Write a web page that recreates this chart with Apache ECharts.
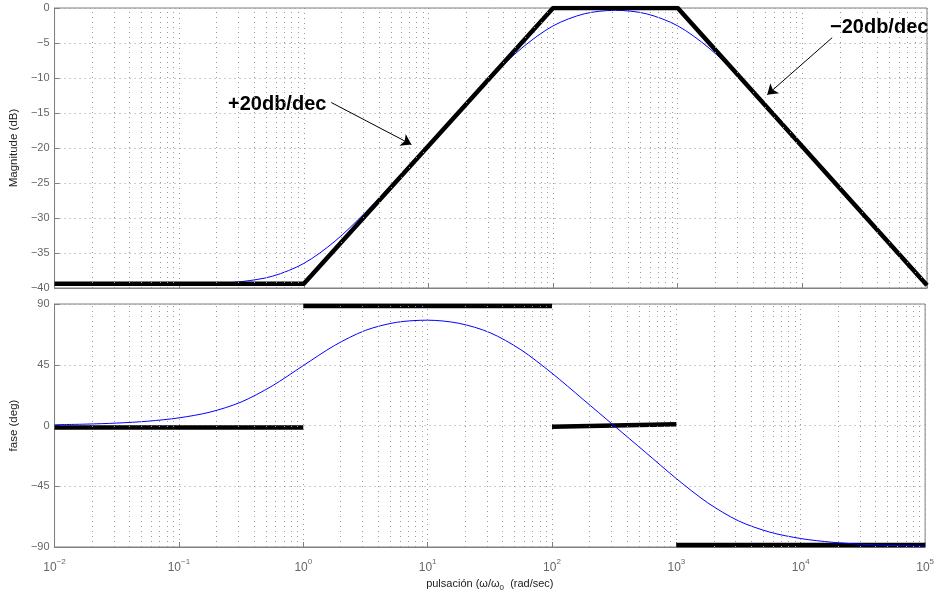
<!DOCTYPE html>
<html>
<head>
<meta charset="utf-8">
<script src="https://cdn.jsdelivr.net/npm/echarts@6/dist/echarts.min.js"></script>
<style>
  html, body { margin: 0; padding: 0; background: #fff; }
  #bode { width: 937px; height: 595px; }
</style>
</head>
<body>
<div id="bode"></div>
<script>
// pulsación (rad/sec), un punto cada 1/4 de década
const omega = [0.01, 0.0178, 0.0316, 0.0562, 0.1, 0.178, 0.316, 0.562,
  1, 1.78, 3.16, 5.62, 10, 17.8, 31.6, 56.2, 100, 178, 316, 562,
  1000, 1780, 3160, 5620, 10000, 17800, 31600, 56200, 100000]
// curva real (azul)
const magnitude = [-39.5, -39.5, -39.5, -39.49, -39.46, -39.37, -39.09, -38.31,
  -36.49, -33.31, -29.09, -24.38, -19.5, -14.62, -9.91, -5.71, -2.55, -0.83, -0.33, -0.83,
  -2.55, -5.71, -9.92, -14.64, -19.54, -24.51, -29.5, -34.5, -39.5]
const phase = [0.57, 1.01, 1.79, 3.18, 5.65, 9.93, 17.35, 29.3,
  44.37, 59.23, 70.46, 76.42, 78.01, 75.72, 68.83, 56.11, 38.72, 19.29, -0.18, -19.71,
  -39.35, -57.16, -70.66, -78.95, -83.73, -86.46, -88.01, -88.88, -89.37]
// asintotas (negro)
const magAsymptote = [[0.01, -39.4], [1, -39.4], [100, 0], [1000, 0], [100000, -39.6]]
const phaseAsymLow = [[0.01, -1.5], [1, -1.5]]
const phaseAsymMid = [[1, 88.5], [100, 88.5]]
const phaseAsymHigh = [[100, -1], [1000, 1]]
const phaseAsymEnd = [[1000, -88.5], [100000, -88.5]]
// flechas de las anotaciones
const arrowUp = [[1.66, -13.5], [7.3, -19.5]]
const arrowDown = [[17340, -4.24], [5224, -12.4]]

const fontFam = 'Liberation Sans, Arial, sans-serif'
const gridLine = { color: '#999', width: 1, type: [1, 4] }

function pair(a, b) {
  return a.map((v, i) => [v, b[i]])
}
function minus(v) {
  return v < 0 ? '\u2212' + (-v) : String(v)
}

// lineas menores 2..9 x 10^k
let minorLines = []
for (let k = -2; k < 5; k++) {
  for (let m = 2; m < 10; m++) {
    minorLines.push({ xAxis: m * Math.pow(10, k) })
  }
}
let minorMark = {
  silent: true,
  symbol: 'none',
  label: { show: false },
  lineStyle: gridLine,
  data: minorLines,
  animation: false
}

function xAxisCfg(idx, showLabels) {
  return {
    type: 'log',
    logBase: 10,
    gridIndex: idx,
    min: 0.01,
    max: 100000,
    splitNumber: 7,
    axisLine: { onZero: false, lineStyle: { color: '#808080' } },
    axisTick: { inside: true, length: 5, lineStyle: { color: '#808080' } },
    splitLine: { show: true, lineStyle: gridLine },
    axisLabel: {
      show: showLabels,
      margin: 11,
      formatter: function (v) {
        let e = Math.round(Math.log10(v))
        return '{b|10}{s|' + minus(e) + '}'
      },
      rich: {
        b: { fontSize: 12, color: '#666', fontFamily: fontFam, verticalAlign: 'bottom' },
        s: { fontSize: 8, color: '#666', fontFamily: fontFam, verticalAlign: 'bottom', padding: [0, 0, 8, 0] }
      }
    }
  }
}

let myChart = echarts.init(document.getElementById('bode'))
myChart.setOption({
  animation: false,
  backgroundColor: '#fff',
  grid: [
    { left: 54, top: 8, width: 873, height: 280, show: true, borderColor: '#808080', borderWidth: 1 },
    { left: 54, top: 304, width: 873, height: 243, show: true, borderColor: '#808080', borderWidth: 1 }
  ],
  xAxis: [
    xAxisCfg(0, false),
    Object.assign(xAxisCfg(1, true), {
      name: 'pulsación (ω/ω{sub|0}  (rad/sec)',
      nameLocation: 'middle',
      nameGap: 29,
      nameTextStyle: {
        fontSize: 11, color: '#222', fontFamily: fontFam,
        rich: { sub: { fontSize: 8, color: '#222', fontFamily: fontFam, verticalAlign: 'top', padding: [8, 0, 0, 0] } }
      }
    })
  ],
  yAxis: [
    {
      type: 'value', gridIndex: 0, min: -40, max: 0, interval: 5,
      name: 'Magnitude (dB)', nameLocation: 'middle', nameGap: 29,
      nameTextStyle: { fontSize: 11.5, color: '#222', fontFamily: fontFam },
      axisLine: { show: true, onZero: false, lineStyle: { color: '#808080' } },
      axisTick: { show: true, inside: true, length: 5, lineStyle: { color: '#808080' } },
      splitLine: { show: true, lineStyle: gridLine },
      axisLabel: { fontSize: 11, color: '#666', fontFamily: fontFam, margin: 5, formatter: minus }
    },
    {
      type: 'value', gridIndex: 1, min: -90, max: 90, interval: 45,
      name: 'fase (deg)', nameLocation: 'middle', nameGap: 29,
      nameTextStyle: { fontSize: 11.5, color: '#222', fontFamily: fontFam },
      axisLine: { show: true, onZero: false, lineStyle: { color: '#808080' } },
      axisTick: { show: true, inside: true, length: 5, lineStyle: { color: '#808080' } },
      splitLine: { show: true, lineStyle: gridLine },
      axisLabel: { fontSize: 11, color: '#666', fontFamily: fontFam, margin: 5, formatter: minus }
    }
  ],
  graphic: [
    { type: 'text', left: 228, top: 94, style: { text: '+20db/dec', font: 'bold 20px ' + fontFam, fill: '#000' } },
    { type: 'text', left: 830, top: 17, style: { text: '\u221220db/dec', font: 'bold 20px ' + fontFam, fill: '#000' } }
  ],
  series: [
    {
      name: 'magnitud', type: 'line', xAxisIndex: 0, yAxisIndex: 0,
      data: pair(omega, magnitude), smooth: 0.3, showSymbol: false, z: 2,
      lineStyle: { color: '#0000ff', width: 1 },
      markLine: minorMark
    },
    {
      name: 'asintota', type: 'line', xAxisIndex: 0, yAxisIndex: 0,
      data: magAsymptote, showSymbol: false, z: 3,
      lineStyle: { color: '#000', width: 4.5 },
      markLine: {
        silent: true,
        symbol: ['none', 'arrow'],
        symbolSize: 10,
        label: { show: false },
        lineStyle: { color: '#000', width: 1, type: 'solid' },
        data: [
          [{ coord: arrowUp[0] }, { coord: arrowUp[1] }],
          [{ coord: arrowDown[0] }, { coord: arrowDown[1] }]
        ]
      }
    },
    {
      name: 'fase', type: 'line', xAxisIndex: 1, yAxisIndex: 1,
      data: pair(omega, phase), smooth: 0.3, showSymbol: false, z: 4,
      lineStyle: { color: '#0000ff', width: 1 },
      markLine: minorMark
    },
    { type: 'line', xAxisIndex: 1, yAxisIndex: 1, data: phaseAsymLow, showSymbol: false, z: 3, lineStyle: { color: '#000', width: 4.5 } },
    { type: 'line', xAxisIndex: 1, yAxisIndex: 1, data: phaseAsymMid, showSymbol: false, z: 3, lineStyle: { color: '#000', width: 4.5 } },
    { type: 'line', xAxisIndex: 1, yAxisIndex: 1, data: phaseAsymHigh, showSymbol: false, z: 3, lineStyle: { color: '#000', width: 4.5 } },
    { type: 'line', xAxisIndex: 1, yAxisIndex: 1, data: phaseAsymEnd, showSymbol: false, z: 3, lineStyle: { color: '#000', width: 4.5 } }
  ]
})
</script>
</body>
</html>
